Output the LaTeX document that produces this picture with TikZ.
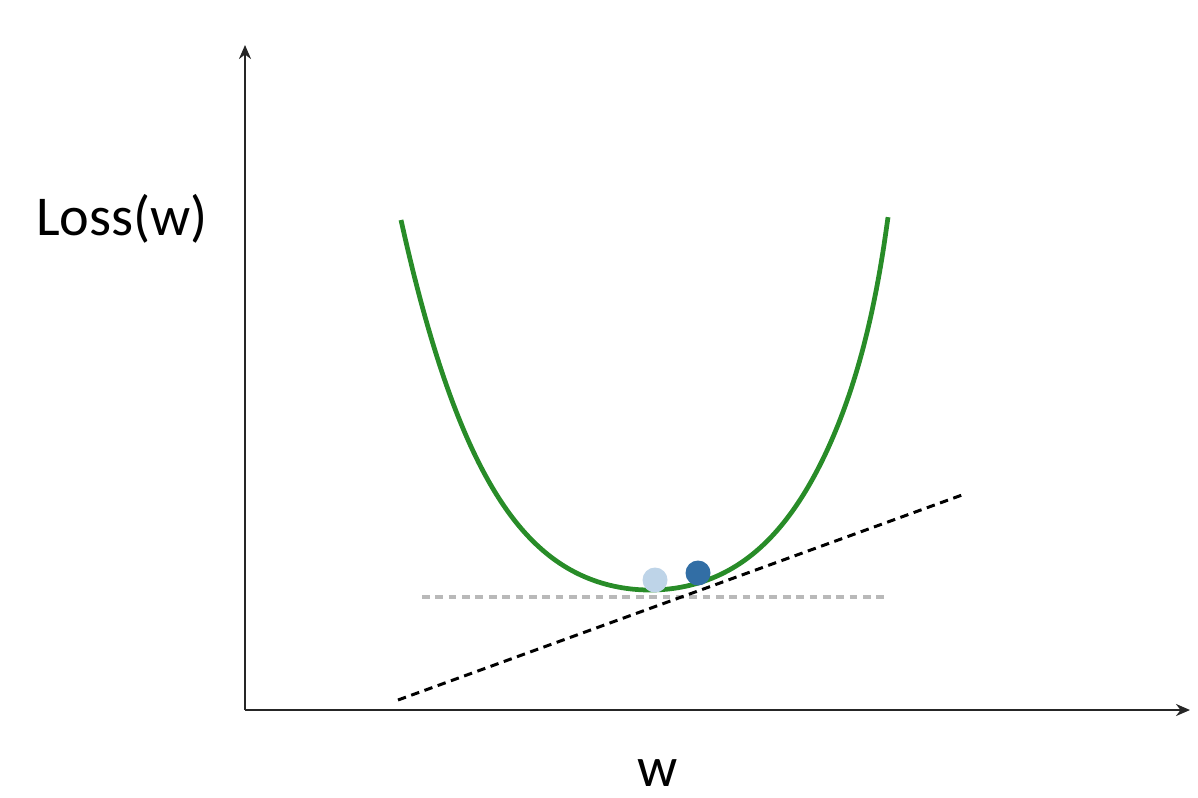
\documentclass[tikz,border=0pt]{standalone}
\usepackage{fontspec}
\setmainfont{Carlito}
\usetikzlibrary{arrows.meta}
\definecolor{curvegreen}{RGB}{40,140,40}
\definecolor{dotdark}{RGB}{50,110,165}
\definecolor{dotlight}{RGB}{190,212,232}
\definecolor{gridgray}{RGB}{185,185,185}
\tikzset{
  axisline/.style={line width=0.8pt, black!85, -{Stealth[length=0.14cm,width=0.12cm]}},
  losscurve/.style={line width=1.35pt, curvegreen},
  tangentline/.style={line width=0.85pt, black, dash pattern=on 2.4pt off 1.6pt},
  levelline/.style={line width=0.9pt, gridgray, dash pattern=on 2.2pt off 1.6pt},
  ball/.style={circle, inner sep=0pt, minimum size=0.25cm},
  label/.style={inner sep=0pt, anchor=base, text depth=0pt}
}
\begin{document}
\begin{tikzpicture}[x=0.01cm,y=-0.01cm]
\useasboundingbox (0,0) rectangle (1198,797);
\coordinate (O) at (245,710);
\coordinate (ytop) at (245,45);
\coordinate (xend) at (1190,710);
\draw[axisline] (O) -- (ytop);
\draw[axisline] (O) -- (xend);
% level line
\coordinate (l1) at (422,597);
\coordinate (l2) at (888,597);
\draw[levelline] (l1) -- (l2);
% loss curve
\draw[losscurve] plot[domain=-2.49:2.38, samples=120, smooth]
  ({650+100*\x},{590-(28.8*\x*\x+4.98*\x*\x*\x*\x+3.09*pow(max(\x,0)/2,16))});
% tangent line
\coordinate (t1) at (398,700);
\coordinate (t2) at (962,495);
\draw[tangentline] (t1) -- (t2);
% balls
\node[ball, fill=dotlight] (b1) at (655,580) {};
\node[ball, fill=dotdark] (b2) at (698,573) {};
% labels
\node[label, font=\fontsize{16}{18}\selectfont] (ylab) at (122,235) {Loss(w)};
\node[label, font=\fontsize{16}{18}\selectfont] (xlab) at (658,786) {w};
\end{tikzpicture}
\end{document}
